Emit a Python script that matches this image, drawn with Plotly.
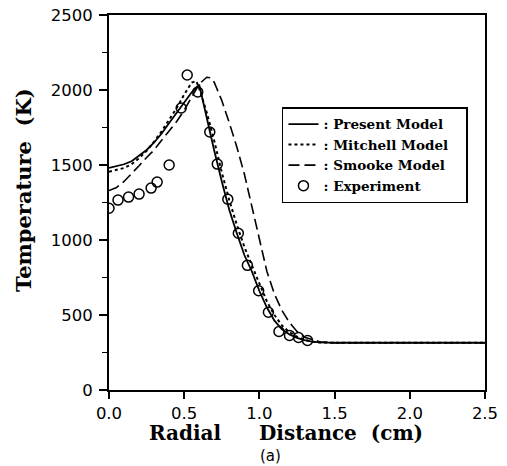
import plotly.graph_objects as go

# ---- data ----
present_x = [0.0, 0.05, 0.1, 0.15, 0.2, 0.25, 0.3, 0.35, 0.4, 0.45, 0.5, 0.55, 0.6,
             0.65, 0.7, 0.75, 0.8, 0.85, 0.9, 0.95, 1.0, 1.05, 1.1, 1.15, 1.2, 1.25,
             1.3, 1.35, 1.4, 1.5, 2.0, 2.5]
present_y = [1480, 1490, 1505, 1525, 1560, 1600, 1650, 1710, 1780, 1850, 1920, 1985, 2035,
             1810, 1595, 1390, 1200, 1045, 900, 790, 660, 550, 462, 405, 370, 348,
             332, 322, 317, 315, 315, 315]

mitchell_x = [0.0, 0.05, 0.1, 0.15, 0.2, 0.25, 0.3, 0.35, 0.4, 0.45, 0.5, 0.55, 0.58,
              0.6, 0.65, 0.7, 0.75, 0.8, 0.85, 0.9, 0.95, 1.0, 1.05, 1.1, 1.15, 1.2,
              1.25, 1.3, 1.35, 1.4, 1.5, 2.5]
mitchell_y = [1455, 1465, 1480, 1505, 1545, 1595, 1655, 1725, 1800, 1880, 1970, 2050, 2060,
              2010, 1850, 1660, 1450, 1265, 1100, 955, 830, 710, 590, 500, 430, 385,
              355, 335, 322, 317, 315, 315]

smooke_x = [0.0, 0.05, 0.1, 0.15, 0.2, 0.25, 0.3, 0.35, 0.4, 0.45, 0.5, 0.55, 0.6,
            0.65, 0.68, 0.7, 0.75, 0.8, 0.85, 0.9, 0.95, 1.0, 1.05, 1.1, 1.15, 1.2,
            1.25, 1.3, 1.35, 1.4, 1.5, 2.5]
smooke_y = [1330, 1350, 1390, 1440, 1495, 1550, 1600, 1665, 1730, 1790, 1865, 1954, 2040,
            2085, 2080, 2050, 1930, 1780, 1620, 1440, 1230, 1000, 790, 640, 530, 450,
            390, 352, 335, 322, 315, 315]

exp_x = [0.0, 0.06, 0.13, 0.2, 0.28, 0.32, 0.40, 0.48, 0.52, 0.59, 0.67, 0.72, 0.79,
         0.86, 0.92, 0.995, 1.06, 1.13, 1.20, 1.26, 1.32]
exp_y = [1212, 1266, 1286, 1306, 1346, 1386, 1500, 1880, 2100, 1987, 1720, 1506, 1272,
         1045, 831, 662, 518, 390, 364, 350, 330]

x_ticks = [0.0, 0.5, 1.0, 1.5, 2.0, 2.5]
x_tick_labels = ["0.0", "0.5", "1.0", "1.5", "2.0", "2.5"]
y_ticks = [0, 500, 1000, 1500, 2000, 2500]
y_tick_labels = ["0", "500", "1000", "1500", "2000", "2500"]

fig = go.Figure()
fig.add_trace(go.Scatter(x=present_x, y=present_y, mode="lines", name="<b>: Present Model</b>",
                         line=dict(color="black", width=1.8, dash="solid")))
fig.add_trace(go.Scatter(x=mitchell_x, y=mitchell_y, mode="lines",
                         name="<b>: Mitchell Model</b>&nbsp;&nbsp;&nbsp;",
                         line=dict(color="black", width=2, dash="dot")))
fig.add_trace(go.Scatter(x=smooke_x, y=smooke_y, mode="lines", name="<b>: Smooke Model</b>",
                         line=dict(color="black", width=1.6, dash="11px,5px")))
fig.add_trace(go.Scatter(x=exp_x, y=exp_y, mode="markers", name="<b>: Experiment</b>",
                         marker=dict(symbol="circle-open", size=10, color="black",
                                     line=dict(color="black", width=1.5))))

tick_font = dict(family="DejaVu Sans", size=16.5, color="black")
title_font = dict(family="DejaVu Serif", size=20, color="black")

fig.update_layout(
    width=507, height=466,
    margin=dict(l=109, r=22, t=15, b=76, autoexpand=False),
    paper_bgcolor="white", plot_bgcolor="white",
    showlegend=True,
    legend=dict(x=0.46, y=0.754, xanchor="left", yanchor="top",
                bgcolor="white", bordercolor="black", borderwidth=1.5,
                font=dict(family="DejaVu Serif", size=13.5, color="black"),
                tracegroupgap=0, itemwidth=30),
    xaxis=dict(range=[0, 2.5], tickmode="array", tickvals=x_ticks, ticktext=x_tick_labels,
               ticks="outside", ticklen=7, tickwidth=1.5, tickcolor="black",
               showline=True, linecolor="black", linewidth=1.8, mirror=True,
               showgrid=False, zeroline=False, tickfont=tick_font, automargin=False),
    yaxis=dict(range=[0, 2500], tickmode="array", tickvals=y_ticks, ticktext=y_tick_labels,
               ticks="outside", ticklen=8, tickwidth=1.5, tickcolor="black",
               minor=dict(dtick=250, tick0=0, ticks="outside", ticklen=5, tickwidth=1.2,
                          tickcolor="black", showgrid=False),
               showline=True, linecolor="black", linewidth=1.8, mirror=True,
               showgrid=False, zeroline=False, tickfont=tick_font, ticklabelstandoff=3,
               automargin=False),
    annotations=[
        dict(text="<b>Temperature  (K)</b>", x=-0.229, y=0.533, xref="paper", yref="paper",
             textangle=-90, showarrow=False, font=dict(family="DejaVu Serif", size=21, color="black"),
             xanchor="center", yanchor="middle"),
        dict(text="<b>Radial</b>", x=(185 - 109) / 376, y=(390 - 433) / 375, xref="paper", yref="paper",
             showarrow=False, font=title_font, xanchor="center", yanchor="middle"),
        dict(text="<b>Distance  (cm)</b>", x=(341 - 109) / 376, y=(390 - 433) / 375, xref="paper",
             yref="paper", showarrow=False, font=title_font, xanchor="center", yanchor="middle"),
        dict(text="(a)", x=(270 - 109) / 376, y=(390 - 456) / 375, xref="paper", yref="paper",
             showarrow=False, font=dict(family="DejaVu Sans", size=15, color="black"),
             xanchor="center", yanchor="middle"),
    ],
)

fig.write_html("out.html")
